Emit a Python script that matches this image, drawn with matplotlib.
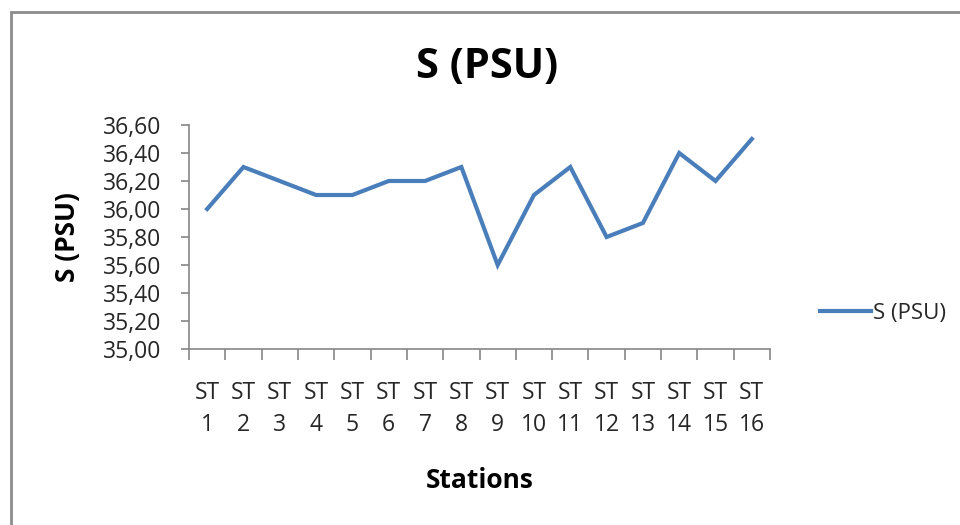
import matplotlib
matplotlib.use("Agg")
import matplotlib.pyplot as plt
from matplotlib.patches import Rectangle
from matplotlib.ticker import FuncFormatter

# --- data ---
stations = [f"ST\n{i}" for i in range(1, 17)]
salinity = [36.00, 36.30, 36.20, 36.10, 36.10, 36.20, 36.20, 36.30,
            35.60, 36.10, 36.30, 35.80, 35.90, 36.40, 36.20, 36.50]
y_ticks = [35.0, 35.2, 35.4, 35.6, 35.8, 36.0, 36.2, 36.4, 36.6]

LINE_COLOR = "#4A7EBB"
AXIS_COLOR = "#868686"
TEXT_COLOR = "#262626"

plt.rcParams["font.family"] = ["Open Sans", "DejaVu Sans"]

fig = plt.figure(figsize=(9.6, 5.25), dpi=100)
W, H = 960, 525

# chart frame (gray border, cut off at right and bottom)
fig.patches.append(Rectangle((11 / W, -0.05), 1.2, 1 - 12 / H + 0.05,
                             transform=fig.transFigure, fill=False,
                             edgecolor="#8c8c8c", linewidth=2))

ax = fig.add_axes([189 / W, 1 - 349 / H, (770 - 189) / W, (349 - 125) / H])

x = list(range(len(salinity)))
ax.plot(x, salinity, color=LINE_COLOR, linewidth=3, label="S (PSU)",
        solid_joinstyle="miter")

ax.set_xlim(-0.5, len(salinity) - 0.5)
ax.set_ylim(35.0, 36.6)
ax.set_yticks(y_ticks)
ax.yaxis.set_major_formatter(FuncFormatter(lambda v, p: f"{v:.2f}".replace(".", ",")))

# category labels centred, tick marks between categories
ax.set_xticks(x)
ax.set_xticklabels(stations)
ax.set_xticks([i - 0.5 for i in range(len(salinity) + 1)], minor=True)
ax.tick_params(axis="x", which="major", length=0, pad=23, labelsize=16.5,
               labelcolor=TEXT_COLOR)
ax.tick_params(axis="x", which="minor", length=8, color=AXIS_COLOR, width=1.2)
ax.tick_params(axis="y", length=6, color=AXIS_COLOR, width=1.2, labelsize=16.5,
               labelcolor=TEXT_COLOR, pad=14)
for lbl in ax.get_xticklabels():
    lbl.set_linespacing(1.45)

for s in ["top", "right"]:
    ax.spines[s].set_visible(False)
for s in ["left", "bottom"]:
    ax.spines[s].set_color(AXIS_COLOR)
    ax.spines[s].set_linewidth(1.2)

fig.text(487 / W, 1 - 68 / H, "S (PSU)", ha="center", va="center",
         fontsize=30, fontweight="bold", color="black")
fig.text(68 / W, 1 - 237 / H, "S (PSU)", ha="center", va="center",
         rotation=90, fontsize=19, fontweight="bold", color="black")
fig.text(480 / W, 1 - 480 / H, "Stations", ha="center", va="center",
         fontsize=19, fontweight="bold", color="black")

fig.legend(loc="center left", bbox_to_anchor=(800 / W, 1 - 313 / H),
           frameon=False, fontsize=16, handlelength=2.3, handletextpad=0.1,
           labelcolor=TEXT_COLOR)

fig.savefig("out.png", dpi=100, facecolor="white")
